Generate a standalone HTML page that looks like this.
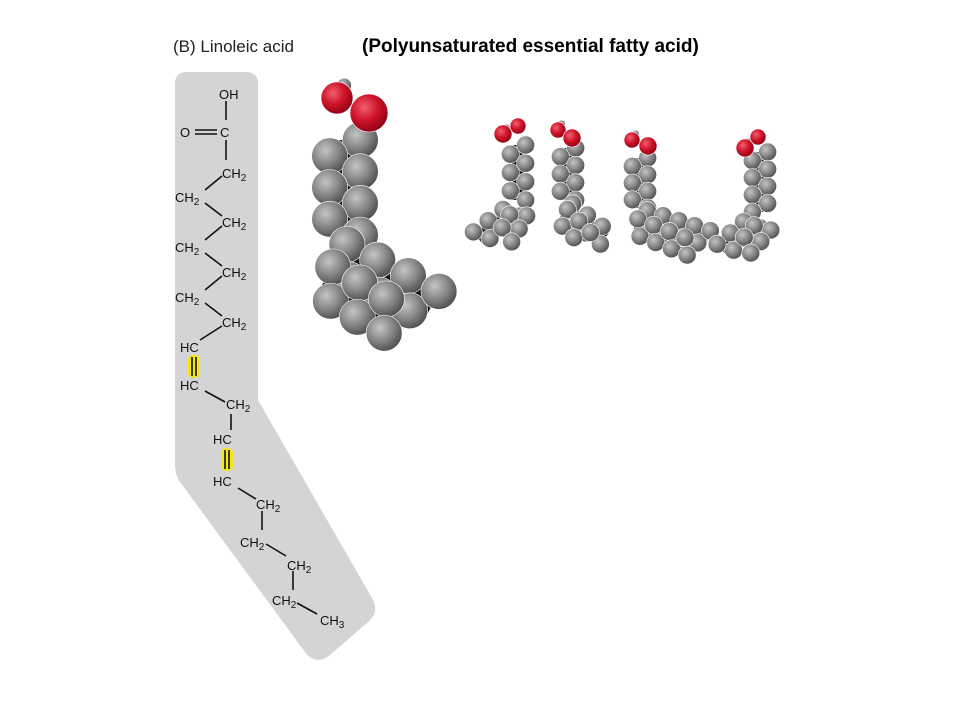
<!DOCTYPE html>
<html><head><meta charset="utf-8"><style>
html,body{margin:0;padding:0;background:#fff}
svg{display:block}
text{font-family:"Liberation Sans",Arial,sans-serif}
</style></head><body>
<svg id="s" width="960" height="720" viewBox="0 0 960 720">
<defs>
<radialGradient id="gg" cx="0.38" cy="0.35" r="0.7">
<stop offset="0" stop-color="#c4c4c4"/><stop offset="0.5" stop-color="#8a8a8a"/><stop offset="1" stop-color="#4a4a4a"/></radialGradient>
<radialGradient id="rg" cx="0.38" cy="0.35" r="0.7">
<stop offset="0" stop-color="#f06070"/><stop offset="0.5" stop-color="#d0142a"/><stop offset="1" stop-color="#8a0010"/></radialGradient>
</defs>
<text x="173" y="52" font-size="17" fill="#222">(B)  Linoleic acid</text>
<text x="362" y="52" font-size="19" font-weight="bold" fill="#000">(Polyunsaturated essential fatty acid)</text>
<path fill="#d4d4d6" d="M187,72 H246 Q258,72 258,84 V400 L372,598 Q380,612 368,622 L330,655 Q316,666 305,652 L180,482 Q175,475 175,465 V84 Q175,72 187,72 Z"/>
<g font-size="13" fill="#111">
<rect x="188" y="355" width="12" height="23" rx="5" fill="#f4e41a"/>
<rect x="221" y="448" width="12" height="23" rx="5" fill="#f4e41a"/>
<g stroke="#111" stroke-width="1.6" fill="none">
<line x1="226" y1="101" x2="226" y2="120"/>
<line x1="195" y1="130" x2="217" y2="130"/><line x1="195" y1="134" x2="217" y2="134"/>
<line x1="226" y1="140" x2="226" y2="160"/>
<line x1="222" y1="176" x2="205" y2="190"/>
<line x1="205" y1="203" x2="222" y2="216"/>
<line x1="222" y1="226" x2="205" y2="240"/>
<line x1="205" y1="253" x2="222" y2="266"/>
<line x1="222" y1="276" x2="205" y2="290"/>
<line x1="205" y1="303" x2="222" y2="316"/>
<line x1="222" y1="326" x2="200" y2="340"/>
<line x1="192" y1="357" x2="192" y2="376"/><line x1="196" y1="357" x2="196" y2="376"/>
<line x1="205" y1="391" x2="225" y2="402"/>
<line x1="231" y1="414" x2="231" y2="430"/>
<line x1="225" y1="450" x2="225" y2="469"/><line x1="229" y1="450" x2="229" y2="469"/>
<line x1="238" y1="488" x2="256" y2="499"/>
<line x1="262" y1="511" x2="262" y2="530"/>
<line x1="266" y1="544" x2="286" y2="556"/>
<line x1="293" y1="571" x2="293" y2="590"/>
<line x1="297" y1="603" x2="317" y2="614"/>
</g>
<text x="219" y="99">OH</text>
<text x="180" y="137">O</text><text x="220" y="137">C</text>
<text x="222" y="178">CH<tspan font-size="10" dy="3">2</tspan></text>
<text x="175" y="202">CH<tspan font-size="10" dy="3">2</tspan></text>
<text x="222" y="227">CH<tspan font-size="10" dy="3">2</tspan></text>
<text x="175" y="252">CH<tspan font-size="10" dy="3">2</tspan></text>
<text x="222" y="277">CH<tspan font-size="10" dy="3">2</tspan></text>
<text x="175" y="302">CH<tspan font-size="10" dy="3">2</tspan></text>
<text x="222" y="327">CH<tspan font-size="10" dy="3">2</tspan></text>
<text x="180" y="352">HC</text>
<text x="180" y="390">HC</text>
<text x="226" y="409">CH<tspan font-size="10" dy="3">2</tspan></text>
<text x="213" y="444">HC</text>
<text x="213" y="486">HC</text>
<text x="256" y="509">CH<tspan font-size="10" dy="3">2</tspan></text>
<text x="240" y="547">CH<tspan font-size="10" dy="3">2</tspan></text>
<text x="287" y="570">CH<tspan font-size="10" dy="3">2</tspan></text>
<text x="272" y="605">CH<tspan font-size="10" dy="3">2</tspan></text>
<text x="320" y="625">CH<tspan font-size="10" dy="3">3</tspan></text>
</g>
<g id="models"></g>
</svg>
<script>
var NS="http://www.w3.org/2000/svg";
var g=document.getElementById('models');
function sph(p,x,y,r,red){var c=document.createElementNS(NS,'circle');


c.setAttribute('cx',x);c.setAttribute('cy',y);c.setAttribute('r',r);
c.setAttribute('fill',red?'url(#rg)':'url(#gg)');c.setAttribute('stroke','#fff');c.setAttribute('stroke-width','0.6');p.appendChild(c);}
function seg(p,x1,y1,x2,y2,r){var dx=x2-x1,dy=y2-y1,L=Math.hypot(dx,dy),n=Math.max(1,Math.round(L/(r*0.95)));
var px=-dy/L,py=dx/L;
for(var i=0;i<=n;i++){var t=i/n,s=(i%2?1:-1)*r*0.85;sph(p,x1+dx*t+px*s,y1+dy*t+py*s,r,false);}}
function model(name,segs,ox,r){var m=document.createElementNS(NS,'g');


g.appendChild(m);
var bk=document.createElementNS(NS,'path');var d='';
segs.forEach(function(s){d+='M'+s[0]+','+s[1]+'L'+s[2]+','+s[3];});
bk.setAttribute('d',d);bk.setAttribute('stroke','#111');bk.setAttribute('stroke-width',r*1.4);bk.setAttribute('fill','none');m.appendChild(bk);
segs.forEach(function(s){seg(m,s[0],s[1],s[2],s[3],r);});
sph(m,ox[0][0]+r*0.4,ox[0][1]-r*0.7,r*0.4,false);
ox.forEach(function(o){sph(m,o[0],o[1],o[2],true);});}
model('space-filling-model-large',[[345,140,345,235],[340,258,432,305],[325,280,392,320]],[[337,98,16],[369,113,19]],18);
model('space-filling-model-1',[[518,145,518,200],[515,210,478,238],[520,212,505,238]],[[503,134,9],[518,126,8]],9);
model('space-filling-model-2',[[568,148,568,200],[568,210,605,238],[562,215,585,238]],[[558,130,8],[572,138,9]],9);
model('space-filling-model-3',[[640,158,640,208],[645,218,708,238],[635,226,690,248]],[[632,140,8],[648,146,9]],9);
model('space-filling-model-4',[[760,152,760,212],[755,222,722,250],[765,225,745,248]],[[745,148,9],[758,137,8]],9);
</script>
</body></html>
